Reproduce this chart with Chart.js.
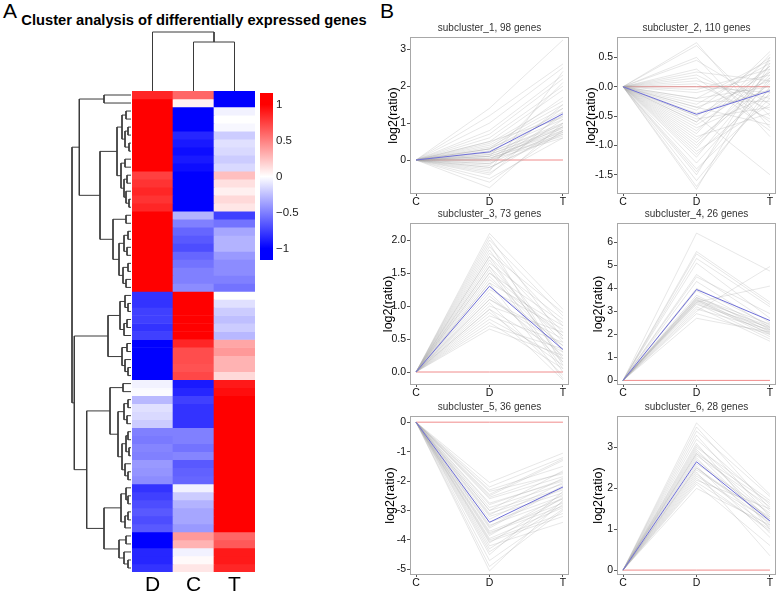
<!DOCTYPE html>
<html><head><meta charset="utf-8">
<script src="https://cdn.jsdelivr.net/npm/chart.js@4.4.1/dist/chart.umd.min.js"></script>
<style>
html,body{margin:0;padding:0;background:#fff}
body{width:778px;height:592px;position:relative;overflow:hidden;font-family:"Liberation Sans",Arial,Helvetica,sans-serif}
canvas{position:absolute;display:block}
.lbl{position:absolute;white-space:nowrap;line-height:1;color:#000}
</style></head><body>
<div class="lbl" style="left:3px;top:0px;font-size:21px">A</div>
<div class="lbl" style="left:380px;top:0px;font-size:21px">B</div>
<div class="lbl" style="left:0;width:388px;top:13px;text-align:center;font-size:14.7px;font-weight:bold">Cluster analysis of differentially expressed genes</div>
<canvas id="colDendro" width="135" height="67" style="left:126px;top:28px"></canvas>
<canvas id="rowDendro" width="71" height="489" style="left:66px;top:87px"></canvas>
<canvas id="heat" width="123" height="511" style="left:132px;top:91px"></canvas>
<canvas id="cbar" width="53" height="187" style="left:260px;top:83px"></canvas>
<canvas id="p1"></canvas><canvas id="p2"></canvas><canvas id="p3"></canvas>
<canvas id="p4"></canvas><canvas id="p5"></canvas><canvas id="p6"></canvas>
<script>
// ================= DATA =================
const heatCols = ['D', 'C', 'T'];
const heatD = [0.85,1.1,1.1,1.1,1.1,1.1,1.1,1.1,1.1,1.05,0.75,0.8,0.85,0.8,0.85,
  1.15,1.15,1.15,1.15,1.15,1.15,1.15,1.15,1.15,1.15,
  -0.8,-0.8,-0.75,-0.75,-0.8,-0.75,-1.15,-1.15,-1.15,-1.15,-1.15,
  -0.05,-0.02,-0.28,-0.12,-0.15,-0.2,-0.5,-0.52,-0.48,-0.5,-0.4,-0.42,-0.45,
  -0.8,-0.75,-0.7,-0.65,-0.7,-0.65,-1.1,-1.1,-0.85,-0.85,-0.8];
const heatC = [0.6,0.05,-1.1,-1.0,-1.05,-0.85,-0.9,-0.95,-0.9,-0.95,-1.15,-1.15,-1.15,-1.15,-1.15,
  -0.3,-0.5,-0.6,-0.65,-0.7,-0.6,-0.55,-0.5,-0.5,-0.45,
  1.05,1.05,1.05,1.05,1.05,1.05,0.85,0.7,0.7,0.68,0.72,
  -0.9,-0.85,-0.75,-0.8,-0.8,-0.8,-0.5,-0.5,-0.55,-0.48,-0.65,-0.62,-0.6,
  -0.05,-0.2,-0.3,-0.35,-0.35,-0.4,0.4,0.3,-0.05,0.02,0.1];
const heatT = [-1.15,-1.15,-0.05,0.0,-0.03,-0.2,-0.12,-0.15,-0.2,-0.15,0.25,0.12,0.06,0.15,0.1,
  -0.75,-0.55,-0.35,-0.3,-0.3,-0.4,-0.45,-0.45,-0.5,-0.55,
  0.0,-0.12,-0.2,-0.25,-0.2,-0.28,0.35,0.4,0.3,0.3,0.15,
  0.9,0.95,1.1,1.1,1.1,1.1,1.1,1.1,1.1,1.1,1.1,1.1,1.1,
  1.0,1.05,1.05,1.05,1.05,1.05,0.6,0.65,0.9,0.9,0.85];

// dendrograms: [mergeHeight, left, right]; leaves are row / column indices
const treeB1 = [2.7, 0, 1];
const treeB2 = [1.4, [0.9, [0.5, 2, 3], [0.6, [0.3, 4, 5], [0.2, 6, 7]]], [1.0, [0.6, 8, 9], [0.7, [0.4, 10, 11], [0.5, 12, [0.2, 13, 14]]]]];
const treeB3 = [1.8, [0.5, 15, 16], [1.2, [0.7, [0.3, 17, 18], [0.4, 19, 20]], [0.8, [0.3, 21, 22], [0.5, 23, 24]]]];
const treeB4 = [1.1, [0.6, 25, [0.3, 26, 27]], [0.7, [0.4, 28, 29], 30]];
const treeB5 = [0.9, [0.4, 31, 32], [0.6, 33, [0.3, 34, 35]]];
const treeB6a = [0.8, 36, 37];
const treeB6b = [0.7, [0.3, 38, 39], [0.4, 40, 41]];
const treeB7 = [0.9, [0.5, [0.3, 42, 43], [0.2, 44, 45]], [0.6, 46, [0.3, 47, 48]]];
const treeB8 = [1.0, [0.5, 49, [0.3, 50, 51]], [0.6, [0.3, 52, 53], 54]];
const treeB910 = [1.2, [0.5, 55, 56], [0.7, 57, [0.3, 58, 59]]];
const rowTree = [5.9, [5.17, treeB1, [3.1, treeB2, treeB3]],
                      [5.67, [2.3, treeB4, treeB5], [4.43, [2.1, treeB6a, [1.3, treeB6b, treeB7]], [2.7, treeB8, treeB910]]]];
const rowTreeMax = 5.9;
const colTree = [5.9, 0, [4.9, 1, 2]];
const colTreeMax = 5.9;

const colorbarStops = [-1, 0, 1];
const colorbarRange = [-1.16, 1.16];
const colorbarTicks = [1, 0.5, 0, -0.5, -1];

const timePoints = ['C', 'D', 'T'];
const zeroLine = [0, 0, 0];

const sub1Title = 'subcluster_1, 98 genes';
const sub1D = [1.4,1.2,1.0,0.8,0.7,0.6,0.5,0.45,0.4,0.35,0.3,0.3,0.25,0.2,0.2,0.15,0.15,0.1,0.1,0.05,0.05,0.0,0.0,-0.05,-0.1,-0.1,-0.15,-0.2,-0.25,-0.3,-0.35,-0.4,-0.5,-0.6,-0.75,0.3,0.1,0.0,-0.2,0.5];
const sub1T = [3.25,2.6,2.5,2.3,2.2,2.0,1.9,1.6,1.5,1.4,1.3,1.2,1.1,1.0,0.95,0.9,0.85,0.8,0.75,0.7,0.65,0.6,0.9,1.0,1.2,0.8,1.5,0.7,1.1,2.4,0.9,1.3,0.6,0.8,1.0,1.7,2.1,1.4,0.75,1.15];
const sub1Mean = [0, 0.22, 1.25];
const sub1Ticks = [0, 1, 2, 3];

const sub2Title = 'subcluster_2, 110 genes';
const sub2D = [0.75,0.7,0.5,0.45,0.3,0.25,0.2,0.1,0.05,0.0,-0.05,-0.1,-0.2,-0.25,-0.3,-0.35,-0.4,-0.45,-0.5,-0.55,-0.6,-0.65,-0.7,-0.75,-0.8,-0.85,-0.9,-1.0,-1.05,-1.1,-1.2,-1.3,-1.4,-1.5,-1.6,-1.7,-1.75,-0.35,-0.5,-0.6,-0.95,-1.15,0.15,-0.2,-1.45];
const sub2T = [-0.7,-0.5,-0.85,-0.3,-0.6,0.1,-0.4,-0.2,-0.55,-0.1,0.3,0.2,0.0,-0.25,0.4,0.1,0.5,-0.05,0.25,-0.35,0.6,0.15,-0.15,0.35,0.55,-0.45,0.05,0.2,0.45,-0.3,0.3,0.1,-0.2,0.5,-0.1,0.0,0.4,-0.65,-1.5,0.35,0.25,-0.05,-0.75,0.45,0.15];
const sub2Mean = [0, -0.47, -0.07];
const sub2Ticks = [-1.5, -1.0, -0.5, 0.0, 0.5];

const sub3Title = 'subcluster_3, 73 genes';
const sub3D = [2.1,2.05,2.0,1.95,1.9,1.85,1.8,1.75,1.7,1.65,1.6,1.55,1.5,1.45,1.4,1.35,1.3,1.25,1.2,1.15,1.1,1.05,1.0,0.95,0.9,0.85,0.8,0.75,0.7,0.65,1.75,1.6,1.35,1.1,0.95,1.5];
const sub3T = [0.95,0.5,0.85,0.1,0.7,0.3,0.9,0.6,0.2,0.8,0.45,0.0,0.75,0.35,0.55,-0.1,0.4,0.65,0.15,0.25,0.5,-0.05,0.6,0.3,0.1,0.45,0.2,0.05,0.35,0.25,0.15,0.05,0.7,0.4,-0.12,0.55];
const sub3Mean = [0, 1.3, 0.34];
const sub3Ticks = [0.0, 0.5, 1.0, 1.5, 2.0];

const sub4Title = 'subcluster_4, 26 genes';
const sub4D = [6.4,5.6,5.5,5.3,5.1,4.6,4.5,4.3,4.0,3.9,3.7,3.6,3.55,3.5,3.5,3.45,3.4,3.4,3.35,3.3,3.2,3.1,3.0,2.9,2.7,3.6];
const sub4T = [4.75,3.4,3.3,3.2,2.7,2.5,2.9,2.3,2.4,2.2,2.1,2.25,2.0,1.9,2.35,2.15,4.1,2.05,1.8,2.3,1.7,2.2,4.95,2.0,2.1,2.45];
const sub4Mean = [0, 3.95, 2.6];
const sub4Ticks = [0, 1, 2, 3, 4, 5, 6];

const sub5Title = 'subcluster_5, 36 genes';
const sub5D = [-2.05,-2.2,-2.3,-2.45,-2.55,-2.6,-2.75,-2.9,-3.0,-3.1,-3.2,-3.3,-3.4,-3.5,-3.6,-3.7,-3.75,-3.85,-3.95,-4.0,-4.1,-4.2,-4.3,-4.4,-4.5,-4.7,-4.9,-5.05,-2.5,-3.15,-3.55,-3.8,-2.35,-3.0,-4.05,-2.8];
const sub5T = [-1.05,-1.2,-1.5,-1.25,-1.7,-1.85,-2.0,-2.1,-1.65,-2.3,-2.4,-2.05,-2.5,-2.6,-2.2,-2.75,-2.85,-2.45,-2.9,-3.1,-2.55,-3.4,-2.7,-2.8,-2.35,-2.95,-3.0,-2.65,-1.3,-1.9,-2.15,-2.6,-1.75,-2.25,-3.2,-1.95];
const sub5Mean = [0, -3.4, -2.2];
const sub5Ticks = [-5, -4, -3, -2, -1, 0];

const sub6Title = 'subcluster_6, 28 genes';
const sub6D = [3.6,3.5,3.4,3.3,3.2,3.1,3.05,3.0,2.95,2.9,2.85,2.8,2.75,2.7,2.6,2.55,2.5,2.45,2.4,2.35,2.3,2.25,2.2,2.15,2.1,2.0,2.85,2.5];
const sub6T = [1.85,1.5,1.8,1.3,1.6,1.0,1.45,1.7,1.2,1.35,1.1,1.55,0.9,1.25,1.4,0.8,1.15,1.3,0.35,1.05,1.2,0.95,1.5,1.0,0.6,1.1,1.65,1.25];
const sub6Mean = [0, 2.65, 1.2];
const sub6Ticks = [0, 1, 2, 3];

// ================= RENDERING =================
Chart.defaults.font.family = '"Liberation Sans", Arial, Helvetica, sans-serif';
Chart.defaults.animation = false;
Chart.defaults.events = [];
Chart.defaults.plugins.legend.display = false;
Chart.defaults.plugins.tooltip.enabled = false;

function heatColor(v) {
  const t = Math.max(-1, Math.min(1, v));
  if (t >= 0) { const c = Math.round(255 * (1 - t)); return `rgb(255,${c},${c})`; }
  const c = Math.round(255 * (1 + t)); return `rgb(${c},${c},255)`;
}

function treeSegments(node, leafOffset, out) {
  if (typeof node === 'number') return { pos: node + leafOffset, h: 0 };
  const [h, a, b] = node;
  const A = treeSegments(a, leafOffset, out), B = treeSegments(b, leafOffset, out);
  out.push([{ h: A.h, p: A.pos }, { h: h, p: A.pos }, { h: h, p: B.pos }, { h: B.h, p: B.pos }]);
  return { pos: (A.pos + B.pos) / 2, h: h };
}

const dendroColor = '#3a3a3a';

// Row dendrogram
(function () {
  const segs = []; treeSegments(rowTree, 0.5, segs);
  new Chart(document.getElementById('rowDendro'), {
    type: 'scatter',
    data: { datasets: segs.map(s => ({ data: s.map(q => ({ x: q.h, y: q.p })), showLine: true, borderColor: dendroColor, borderWidth: 1, pointRadius: 0, clip: false })) },
    options: { responsive: false, layout: { padding: { left: 6, right: 6, top: 4, bottom: 4 } },
      scales: { x: { type: 'linear', min: 0, max: rowTreeMax, reverse: true, display: false },
                y: { type: 'linear', min: 0, max: heatD.length, reverse: true, display: false } } }
  });
})();

// Column dendrogram
(function () {
  const segs = []; treeSegments(colTree, 0, segs);
  new Chart(document.getElementById('colDendro'), {
    type: 'scatter',
    data: { datasets: segs.map(s => ({ data: s.map(q => ({ x: q.p, y: q.h })), showLine: true, borderColor: dendroColor, borderWidth: 1, pointRadius: 0, clip: false })) },
    options: { responsive: false, layout: { padding: { left: 6, right: 6, top: 4, bottom: 4 } },
      scales: { x: { type: 'linear', min: -0.5, max: heatCols.length - 0.5, display: false },
                y: { type: 'linear', min: 0, max: colTreeMax, display: false } } }
  });
})();

// Heatmap
(function () {
  const cols = [heatD, heatC, heatT];
  new Chart(document.getElementById('heat'), {
    type: 'bar',
    data: { labels: heatCols,
      datasets: heatD.map((_, i) => ({
        data: heatCols.map(() => [i, i + 1]),
        backgroundColor: cols.map(c => heatColor(c[i])),
        borderWidth: 0, grouped: false, barPercentage: 1, categoryPercentage: 1
      })) },
    options: { responsive: false, layout: { padding: 0 },
      scales: {
        x: { grid: { display: false, drawTicks: false }, border: { display: false },
             ticks: { font: { size: 21 }, color: '#000', padding: 1 }, afterFit: s => { s.height = 30; } },
        y: { type: 'linear', min: 0, max: heatD.length, reverse: true, display: false }
      } }
  });
})();

// Colour key
(function () {
  new Chart(document.getElementById('cbar'), {
    type: 'bar',
    data: { labels: [''], datasets: [{
      data: [[colorbarRange[0], colorbarRange[1]]],
      backgroundColor: (c) => {
        const ch = c.chart, ys = ch.scales.y;
        if (!ch.chartArea || !ys) return heatColor(0);
        const lo = colorbarStops[0], hi = colorbarStops[colorbarStops.length - 1];
        const g = ch.ctx.createLinearGradient(0, ys.getPixelForValue(hi), 0, ys.getPixelForValue(lo));
        colorbarStops.slice().reverse().forEach(v => g.addColorStop((hi - v) / (hi - lo), heatColor(v)));
        return g;
      },
      borderWidth: 0, barPercentage: 1, categoryPercentage: 1 }] },
    options: { responsive: false, layout: { padding: { top: 8, bottom: 8, left: 0, right: 0 } },
      scales: {
        x: { display: false },
        y: { position: 'right', min: colorbarRange[0], max: colorbarRange[1],
             afterBuildTicks: s => { s.ticks = colorbarTicks.map(v => ({ value: v })); },
             ticks: { callback: v => String(v).replace('-', '\u2212'), font: { size: 11.5 }, color: '#222', padding: 3 },
             grid: { display: false, drawTicks: false }, border: { display: false },
             afterFit: s => { s.width = 40; } }
      } }
  });
})();

// Profile panels
const boxPlugin = {
  id: 'box',
  afterDraw(chart) {
    const { ctx, chartArea: a } = chart;
    ctx.save(); ctx.strokeStyle = '#a8a8a8'; ctx.lineWidth = 1;
    const l = Math.round(a.left) + 0.5, t = Math.round(a.top) + 0.5, r = Math.round(a.right) - 0.5, b = Math.round(a.bottom) - 0.5;
    ctx.strokeRect(l, t, r - l, b - t); ctx.restore();
  }
};

function makePanel(id, box, title, dVals, tVals, mean, yMin, yMax, yTicks, dec, titleGap) {
  const cv = document.getElementById(id);
  const L = 40, R = 6, TOP = 20, BOT = 20;
  cv.width = box.r - box.l + L + R; cv.height = box.b - box.t + TOP + BOT;
  cv.style.left = (box.l - L) + 'px'; cv.style.top = (box.t - TOP) + 'px';
  const datasets = [
    { data: mean.map((v, i) => ({ x: i, y: v })), borderColor: '#6f6fd8', borderWidth: 1, pointRadius: 0 }
  ];
  dVals.forEach((d, k) => datasets.push({
    data: [{ x: 0, y: 0 }, { x: 1, y: d }, { x: 2, y: tVals[k] }],
    borderColor: 'rgba(165,165,165,0.27)', borderWidth: 1, pointRadius: 0 }));
  datasets.push({ data: zeroLine.map((v, i) => ({ x: i, y: v })), borderColor: '#f08c8c', borderWidth: 1, pointRadius: 0 });
  const titleSize = 12.5;
  new Chart(cv, {
    type: 'line',
    data: { datasets },
    options: { responsive: false, layout: { padding: { left: 0, right: R, top: 0, bottom: 0 } },
      plugins: { title: { display: true, text: title, fullSize: false, color: '#333', font: { size: 10, weight: 'normal' }, padding: { top: 5.6, bottom: 2.4 } } },
      scales: {
        x: { type: 'linear', min: -0.082, max: timePoints.length - 1 + 0.082,
             afterBuildTicks: s => { s.ticks = timePoints.map((_, i) => ({ value: i })); },
             ticks: { callback: v => timePoints[v], font: { size: 10.5 }, color: '#111', padding: 0, maxRotation: 0, autoSkip: false },
             grid: { drawOnChartArea: false, drawTicks: true, tickLength: 2, color: '#555' }, border: { display: false },
             afterFit: s => { s.height = BOT; } },
        y: { type: 'linear', min: yMin, max: yMax,
             afterBuildTicks: s => { s.ticks = yTicks.map(v => ({ value: v })); },
             ticks: { callback: v => Number(v).toFixed(dec), font: { size: 10.5 }, color: '#111', padding: 1, autoSkip: false },
             grid: { drawOnChartArea: false, drawTicks: true, tickLength: 3, color: '#555' }, border: { display: false },
             title: { display: true, text: 'log2(ratio)', color: '#000', font: { size: titleSize },
                      padding: { top: L - titleGap - titleSize * 0.6, bottom: 0 } },
             afterFit: s => { s.width = L; } }
      } },
    plugins: [boxPlugin]
  });
}

makePanel('p1', { l: 410, t: 37, r: 569, b: 194 }, sub1Title, sub1D, sub1T, sub1Mean, -0.92, 3.33, sub1Ticks, 0, 16.5);
makePanel('p2', { l: 617, t: 37, r: 776, b: 194 }, sub2Title, sub2D, sub2T, sub2Mean, -1.828, 0.847, sub2Ticks, 1, 25);
makePanel('p3', { l: 410, t: 223, r: 569, b: 385 }, sub3Title, sub3D, sub3T, sub3Mean, -0.197, 2.258, sub3Ticks, 1, 21.5);
makePanel('p4', { l: 617, t: 223, r: 776, b: 385 }, sub4Title, sub4D, sub4T, sub4Mean, -0.2, 6.84, sub4Ticks, 0, 18);
makePanel('p5', { l: 410, t: 416, r: 569, b: 575 }, sub5Title, sub5D, sub5T, sub5Mean, -5.19, 0.21, sub5Ticks, 0, 19.5);
makePanel('p6', { l: 617, t: 416, r: 776, b: 575 }, sub6Title, sub6D, sub6T, sub6Mean, -0.12, 3.77, sub6Ticks, 0, 18.5);
</script>
</body></html>
